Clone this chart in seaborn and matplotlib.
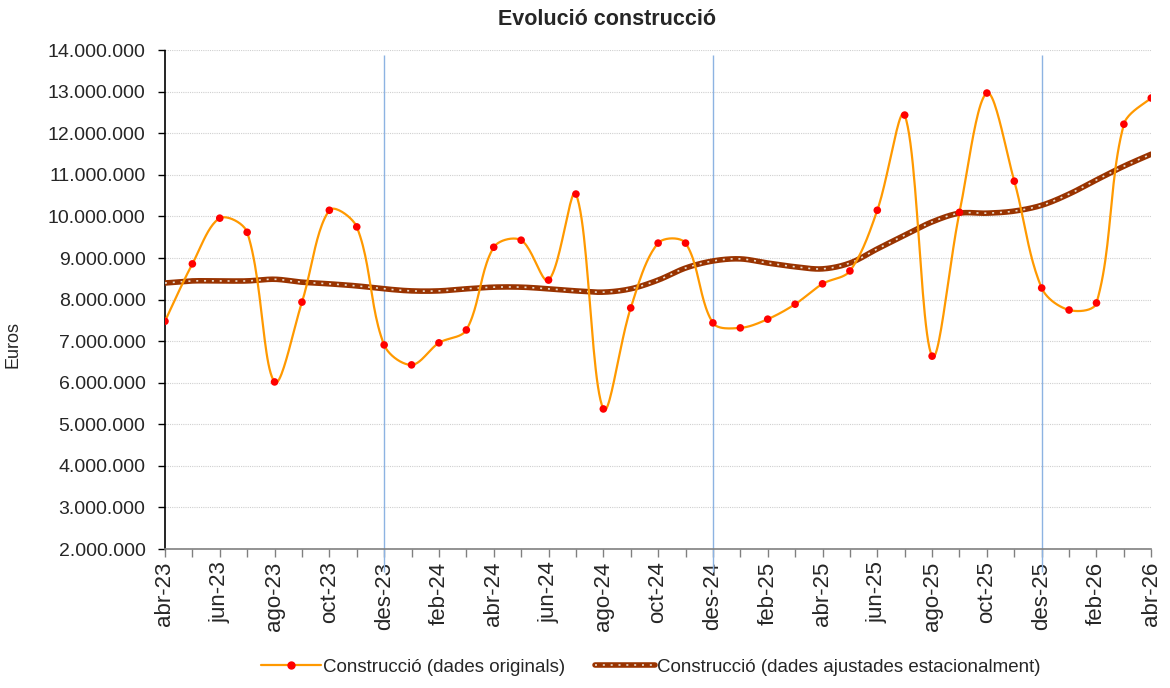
import numpy as np
import pandas as pd
import matplotlib
matplotlib.use("Agg")
import matplotlib.pyplot as plt
import seaborn as sns
from matplotlib.lines import Line2D
from matplotlib.legend_handler import HandlerTuple
from matplotlib.ticker import FuncFormatter, MultipleLocator

# --- data ---
months = ["abr-23", "mai-23", "jun-23", "jul-23", "ago-23", "set-23", "oct-23", "nov-23",
          "des-23", "gen-24", "feb-24", "mar-24", "abr-24", "mai-24", "jun-24", "jul-24",
          "ago-24", "set-24", "oct-24", "nov-24", "des-24", "gen-25", "feb-25", "mar-25",
          "abr-25", "mai-25", "jun-25", "jul-25", "ago-25", "set-25", "oct-25", "nov-25",
          "des-25", "gen-26", "feb-26", "mar-26", "abr-26"]

original = [7.48, 8.86, 9.96, 9.62, 6.02, 7.94, 10.15, 9.75,
            6.91, 6.43, 6.96, 7.27, 9.26, 9.43, 8.47, 10.54,
            5.37, 7.80, 9.36, 9.36, 7.44, 7.32, 7.53, 7.89,
            8.38, 8.69, 10.15, 12.44, 6.64, 10.10, 12.97, 10.85,
            8.28, 7.75, 7.92, 12.22, 12.85]

adjusted = [8.40, 8.45, 8.45, 8.45, 8.49, 8.42, 8.38, 8.33,
            8.26, 8.21, 8.21, 8.26, 8.30, 8.30, 8.26, 8.21,
            8.18, 8.26, 8.47, 8.76, 8.93, 8.98, 8.88, 8.79,
            8.74, 8.88, 9.22, 9.55, 9.87, 10.08, 10.08, 10.13,
            10.27, 10.54, 10.88, 11.21, 11.50]

year_breaks = ["des-23", "des-24", "des-25"]

df = pd.DataFrame({
    "pos": np.arange(len(months)),
    "original": np.array(original) * 1e6,
    "adjusted": np.array(adjusted) * 1e6,
})


def smooth(ax, x, y, n=24):
    """Excel-like smoothed line: Bezier segments, control points scaled by chord length
    (computed in screen space so the curve looks like the spreadsheet one)."""
    pts = ax.transData.transform(np.column_stack([x, y]))
    out = [pts[0]]
    t = np.linspace(0, 1, n + 1)[1:]
    last = len(pts) - 1
    for i in range(last):
        p0 = pts[max(i - 1, 0)]
        p1 = pts[i]
        p2 = pts[i + 1]
        p3 = pts[min(i + 2, last)]
        d01 = np.hypot(*(p1 - p0))
        d12 = np.hypot(*(p2 - p1))
        d23 = np.hypot(*(p3 - p2))
        f1 = d12 / (d01 + d12) / 3 if d01 > 0 else 1 / 6
        f2 = d12 / (d12 + d23) / 3 if d23 > 0 else 1 / 6
        c1 = p1 + (p2 - p0) * f1
        c2 = p2 - (p3 - p1) * f2
        for tt in t:
            b = ((1 - tt) ** 3) * p1 + 3 * ((1 - tt) ** 2) * tt * c1 \
                + 3 * (1 - tt) * tt ** 2 * c2 + tt ** 3 * p2
            out.append(b)
    out = ax.transData.inverted().transform(np.array(out))
    return pd.DataFrame({"x": out[:, 0], "y": out[:, 1]})


sns.set_theme(style="white")
plt.rcParams["font.family"] = ["Liberation Sans", "DejaVu Sans"]

orange = "#FF9900"
red = "#FF0000"
brown = "#993300"

fig = plt.figure(figsize=(11.7, 6.88), dpi=100)
ax = fig.add_axes([0.141, 0.202, 0.843, 0.725])
ax.set_xlim(0, len(months) - 1)
ax.set_ylim(2e6, 14e6)

# year separators (run a little below the axis, over the labels)
for m in year_breaks:
    ax.vlines(months.index(m), 1.45e6, 13.88e6, color="#8DB3E2", lw=1.0,
              zorder=1, clip_on=False)

# seasonally adjusted (thick brown with white dots)
adj_s = smooth(ax, df["pos"], df["adjusted"])
sns.lineplot(data=adj_s, x="x", y="y", ax=ax, color=brown, lw=4.0,
             sort=False, estimator=None, zorder=3)
ax.plot(adj_s["x"], adj_s["y"], color="#E8DCD0", lw=1.2,
        linestyle=(0, (1.2, 3.5)), zorder=4)

# original data (smoothed orange with red dots)
org_s = smooth(ax, df["pos"], df["original"])
sns.lineplot(data=org_s, x="x", y="y", ax=ax, color=orange, lw=1.6,
             sort=False, estimator=None, zorder=5)
sns.scatterplot(data=df, x="pos", y="original", ax=ax, color=red, s=30,
                edgecolor="none", zorder=6)

ax.set_xlim(0, len(months) - 1)
ax.set_ylim(2e6, 14e6)
ax.yaxis.set_major_locator(MultipleLocator(1e6))
ax.yaxis.set_major_formatter(FuncFormatter(lambda v, p: f"{int(round(v)):,}".replace(",", ".")))
ax.set_xticks(df["pos"])
ax.set_xticklabels([m if i % 2 == 0 else "" for i, m in enumerate(months)],
                   rotation=90)

ax.grid(axis="y", color="#D0D0D0", linestyle=(0, (1, 1)), lw=0.8)
ax.set_axisbelow(True)

for s in ["top", "right"]:
    ax.spines[s].set_visible(False)
ax.spines["left"].set_color("black")
ax.spines["left"].set_linestyle((0, (5, 1)))
ax.spines["left"].set_linewidth(1.2)
ax.spines["bottom"].set_color("#808080")
ax.spines["bottom"].set_linewidth(1.2)

ax.tick_params(axis="y", direction="out", length=5, width=1, color="black",
               labelsize=14, left=True, pad=9)
ax.tick_params(axis="x", direction="out", length=6, width=1, color="#808080",
               labelsize=16, bottom=True, pad=3)

ax.set_xlabel("")
ax.set_ylabel("Euros", fontsize=13)
ax.yaxis.set_label_coords(-0.145, 0.41)
fig.text(0.519, 0.972, "Evolució construcció", fontsize=15.5, fontweight="bold",
         ha="center", va="center")

h1 = Line2D([], [], color=orange, lw=1.6, marker="o", markersize=5,
            markerfacecolor=red, markeredgecolor=red)
h2a = Line2D([], [], color=brown, lw=4.0)
h2b = Line2D([], [], color="#E8DCD0", lw=1.2, linestyle=(0, (1.2, 3.5)))
fig.legend([h1, (h2a, h2b)],
           ["Construcció (dades originals)",
            "Construcció (dades ajustades estacionalment)"],
           handler_map={tuple: HandlerTuple(ndivide=1)},
           loc="center", bbox_to_anchor=(0.556, 0.03), ncol=2, frameon=False,
           fontsize=13.5, handlelength=3.2, handletextpad=0.1, columnspacing=1.6)

fig.savefig("out.png", dpi=100)
